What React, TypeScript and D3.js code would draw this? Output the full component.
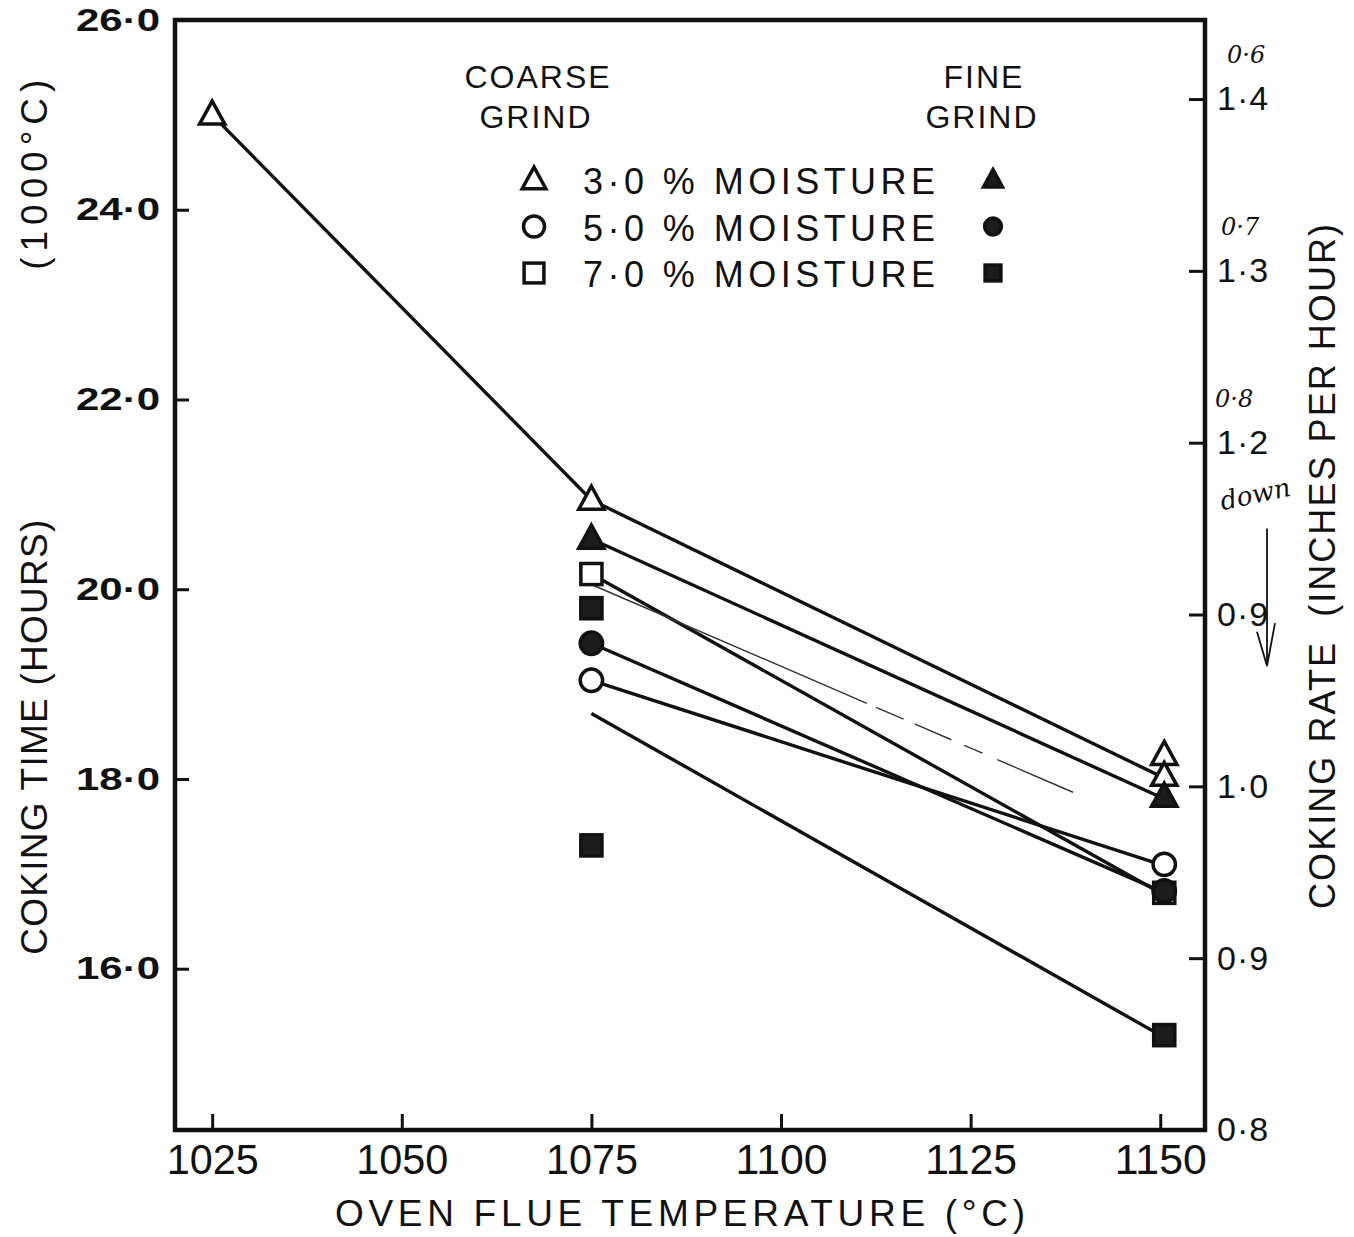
import { useEffect, useRef } from "react"
import * as d3 from "d3"

// axis ticks
const tempTicks = [1025, 1050, 1075, 1100, 1125, 1150]
const timeTicks = [16, 18, 20, 22, 24, 26]
const rateTicks = [1.4, 1.3, 1.2, 1.1, 1.0, 0.9, 0.8]
const rateTickLabels = ["1·4", "1·3", "1·2", "0·9", "1·0", "0·9", "0·8"]
// pencilled re-labels above the top three rate ticks
const rateNotes = ["0·6", "0·7", "0·8"]

// lines (temperature, coking time in hours)
const coarse3Line: [number, number][] = [[1025, 25.0], [1075, 20.94], [1150, 18.03]]
const fine3Line: [number, number][] = [[1075, 20.53], [1150, 17.81]]
const coarse7Line: [number, number][] = [[1075, 20.16], [1150, 16.8]]
const coarse5Line: [number, number][] = [[1075, 19.04], [1150, 17.1]]
const fine5Line: [number, number][] = [[1075, 19.43], [1150, 16.82]]
const fine7Line: [number, number][] = [[1075, 18.69], [1150, 15.3]]
const thinLine: [number, number][] = [[1075, 20.05], [1138.5, 17.86]]

// markers
const coarse3Pts: [number, number][] = [[1025, 25.0], [1075, 20.94], [1150, 18.25], [1150, 18.03]]
const fine3Pts: [number, number][] = [[1075, 20.53], [1150, 17.81]]
const coarse5Pts: [number, number][] = [[1075, 19.04], [1150, 17.1]]
const fine5Pts: [number, number][] = [[1075, 19.43], [1150, 16.82]]
const coarse7Pts: [number, number][] = [[1075, 20.16], [1150, 16.8]]
const fine7Pts: [number, number][] = [[1075, 19.8], [1075, 17.3], [1150, 15.3]]

const legendRows = ["3·0 % MOISTURE", "5·0 % MOISTURE", "7·0 % MOISTURE"]
const legendShapes = ["triangle", "circle", "square"]

const INK = "#111"
const SANS = "'Liberation Sans', 'DejaVu Sans', sans-serif"
const HAND = "'DejaVu Serif', serif"

const App = () => {
  const svgRef = useRef<SVGSVGElement | null>(null)

  useEffect(() => {
    const width = 1354
    const height = 1237
    const margin = { top: 20, right: 149, bottom: 107, left: 175 }

    const svg = d3.select(svgRef.current).attr("width", width).attr("height", height)
    svg.selectAll("*").remove()
    svg.append("rect").attr("width", width).attr("height", height).attr("fill", "white")

    const x = d3.scaleLinear().domain([1020.1, 1155.9]).range([margin.left, width - margin.right])
    const y = d3.scaleLinear().domain([14.3, 26.0]).range([height - margin.bottom, margin.top])
    const yRate = d3.scaleLinear().domain([0.8, 1.446]).range([height - margin.bottom, margin.top])

    const x0 = margin.left
    const x1 = width - margin.right
    const y0 = height - margin.bottom
    const y1 = margin.top

    // frame
    svg
      .append("rect")
      .attr("x", x0)
      .attr("y", y1)
      .attr("width", x1 - x0)
      .attr("height", y0 - y1)
      .attr("fill", "none")
      .attr("stroke", INK)
      .attr("stroke-width", 4.5)

    // bottom axis
    const xAxis = svg
      .append("g")
      .attr("transform", `translate(0,${y0})`)
      .call(d3.axisBottom(x).tickValues(tempTicks).tickSize(-16).tickPadding(36).tickFormat((d) => `${d}`))
    xAxis.select(".domain").remove()
    xAxis.selectAll("line").attr("stroke", INK).attr("stroke-width", 3)
    xAxis
      .selectAll("text")
      .attr("fill", INK)
      .attr("textLength", 92)
      .attr("lengthAdjust", "spacingAndGlyphs")
      .style("font-family", SANS)
      .style("font-size", "42px")
      .attr("dy", "0.2em")

    // left axis
    const yAxis = svg
      .append("g")
      .attr("transform", `translate(${x0},0)`)
      .call(d3.axisLeft(y).tickValues(timeTicks).tickSize(-14).tickPadding(15).tickFormat((d) => d3.format(".1f")(d as number).replace(".", "·")))
    yAxis.select(".domain").remove()
    yAxis.selectAll("line").attr("stroke", INK).attr("stroke-width", 3)
    yAxis
      .selectAll("text")
      .attr("fill", INK)
      .attr("textLength", 84)
      .attr("lengthAdjust", "spacingAndGlyphs")
      .style("font-family", SANS)
      .style("font-weight", "bold")
      .style("font-size", "32px")

    // right axis (coking rate)
    const rAxis = svg
      .append("g")
      .attr("transform", `translate(${x1},0)`)
      .call(d3.axisRight(yRate).tickValues(rateTicks).tickSize(-16).tickPadding(12).tickFormat((_, i) => rateTickLabels[i]))
    rAxis.select(".domain").remove()
    rAxis.selectAll("line").attr("stroke", INK).attr("stroke-width", 3)
    rAxis
      .selectAll("text")
      .attr("fill", INK)
      .style("font-family", SANS)
      .style("font-size", "34px")
      .style("letter-spacing", "1px")

    // pencilled notes above the upper rate labels
    svg
      .append("g")
      .selectAll("text")
      .data(rateNotes)
      .enter()
      .append("text")
      .attr("x", (_, i) => x1 + 22 - i * 6)
      .attr("y", (_, i) => yRate(rateTicks[i]) - 36)
      .attr("fill", INK)
      .style("font-family", HAND)
      .style("font-style", "italic")
      .style("font-size", "24px")
      .text((d) => d)

    // pencilled "down" with arrow
    const hx = x1 + 62
    svg
      .append("text")
      .attr("transform", `translate(${hx - 10},${yRate(1.165)}) rotate(-12)`)
      .attr("text-anchor", "middle")
      .attr("fill", INK)
      .style("font-family", HAND)
      .style("font-style", "italic")
      .style("font-size", "26px")
      .text("down")
    svg
      .append("path")
      .attr("d", d3.line()([[hx, yRate(1.15)], [hx, yRate(1.07)]]))
      .attr("stroke", INK)
      .attr("stroke-width", 1.8)
      .attr("fill", "none")
    svg
      .append("path")
      .attr("d", d3.line()([[hx - 10, yRate(1.09)], [hx, yRate(1.07)], [hx + 8, yRate(1.095)]]))
      .attr("stroke", INK)
      .attr("stroke-width", 1.8)
      .attr("fill", "none")

    // axis titles (letter-spaced, as in the print)
    svg
      .append("text")
      .attr("x", 680)
      .attr("y", 1226)
      .attr("text-anchor", "middle")
      .attr("textLength", 690)
      .attr("lengthAdjust", "spacing")
      .attr("fill", INK)
      .style("font-family", SANS)
      .style("font-size", "37px")
      .text("OVEN FLUE TEMPERATURE (°C)")

    svg
      .append("text")
      .attr("transform", `translate(47,${y(18.44)}) rotate(-90)`)
      .attr("text-anchor", "middle")
      .attr("textLength", 435)
      .attr("lengthAdjust", "spacing")
      .attr("fill", INK)
      .style("font-family", SANS)
      .style("font-size", "37px")
      .text("COKING TIME (HOURS)")
    svg
      .append("text")
      .attr("transform", `translate(47,${y(24.37)}) rotate(-90)`)
      .attr("text-anchor", "middle")
      .attr("textLength", 190)
      .attr("lengthAdjust", "spacing")
      .attr("fill", INK)
      .style("font-family", SANS)
      .style("font-size", "37px")
      .text("(1000°C)")

    svg
      .append("text")
      .attr("transform", `translate(1335,${y(20.24)}) rotate(-90)`)
      .attr("text-anchor", "middle")
      .attr("textLength", 685)
      .attr("lengthAdjust", "spacing")
      .attr("fill", INK)
      .style("font-family", SANS)
      .style("font-size", "36px")
      .style("white-space", "pre")
      .text("COKING RATE  (INCHES PER HOUR)")

    // lines
    const line = d3
      .line<[number, number]>()
      .x((d) => x(d[0]))
      .y((d) => y(d[1]))
    const g = svg.append("g")
    ;[coarse3Line, fine3Line, coarse7Line, coarse5Line, fine5Line, fine7Line].forEach((pts) => {
      g.append("path").attr("d", line(pts)).attr("fill", "none").attr("stroke", INK).attr("stroke-width", 3.4)
    })
    g.append("path")
      .attr("d", line(thinLine))
      .attr("fill", "none")
      .attr("stroke", "#333")
      .attr("stroke-width", 1.4)
      .attr("stroke-dasharray", "300,10,30,12,40,14,20,16")

    // markers
    const triPath = (cx: number, cy: number, s: number) =>
      `M${cx},${cy - s * 0.6}L${cx + s * 0.55},${cy + s * 0.4}L${cx - s * 0.55},${cy + s * 0.4}Z`

    const drawMarker = (
      sel: d3.Selection<SVGGElement, unknown, null, undefined>,
      shape: string,
      cx: number,
      cy: number,
      filled: boolean,
      s: number
    ) => {
      const fill = filled ? "#1c1c1c" : "white"
      if (shape === "triangle") {
        sel.append("path").attr("d", triPath(cx, cy, s * 0.72)).attr("fill", fill).attr("stroke", INK).attr("stroke-width", 3.5).attr("stroke-linejoin", "miter")
      } else if (shape === "circle") {
        sel.append("circle").attr("cx", cx).attr("cy", cy).attr("r", s * 0.35).attr("fill", fill).attr("stroke", INK).attr("stroke-width", 3.5)
      } else {
        sel.append("rect").attr("x", cx - s * 0.33).attr("y", cy - s * 0.33).attr("width", s * 0.66).attr("height", s * 0.66).attr("fill", fill).attr("stroke", INK).attr("stroke-width", 3.5)
      }
    }

    const mg = svg.append("g")
    const groups: [[number, number][], string, boolean][] = [
      [coarse7Pts, "square", false],
      [fine7Pts, "square", true],
      [coarse5Pts, "circle", false],
      [fine5Pts, "circle", true],
      [coarse3Pts, "triangle", false],
      [fine3Pts, "triangle", true],
    ]
    groups.forEach(([pts, shape, filled]) => {
      pts.forEach((p) => drawMarker(mg, shape, x(p[0]) + (p[0] === 1150 ? 4 : 0), y(p[1]), filled, 32))
    })

    // legend
    const lg = svg.append("g")
    const labelStyle = (t: d3.Selection<SVGTextElement, unknown, null, undefined>) =>
      t.attr("fill", INK).attr("text-anchor", "middle").style("font-family", SANS).style("font-size", "32px").style("letter-spacing", "2px")
    labelStyle(lg.append("text").attr("x", 538).attr("y", 88).text("COARSE"))
    labelStyle(lg.append("text").attr("x", 536).attr("y", 128).text("GRIND"))
    labelStyle(lg.append("text").attr("x", 984).attr("y", 88).text("FINE"))
    labelStyle(lg.append("text").attr("x", 982).attr("y", 128).text("GRIND"))

    legendRows.forEach((label, i) => {
      const ry = 180 + i * 46.5
      drawMarker(lg, legendShapes[i], 534, ry, false, 30)
      drawMarker(lg, legendShapes[i], 993, ry, true, 24)
      lg.append("text")
        .attr("x", 583)
        .attr("y", ry + 14)
        .attr("textLength", 352)
        .attr("lengthAdjust", "spacing")
        .attr("fill", INK)
        .style("font-family", SANS)
        .style("font-size", "36px")
        .text(label)
    })
  }, [])

  return (
    <div style={{ position: "absolute", left: 0, top: 0 }}>
      <svg ref={svgRef} style={{ display: "block" }}></svg>
    </div>
  )
}

export default App
